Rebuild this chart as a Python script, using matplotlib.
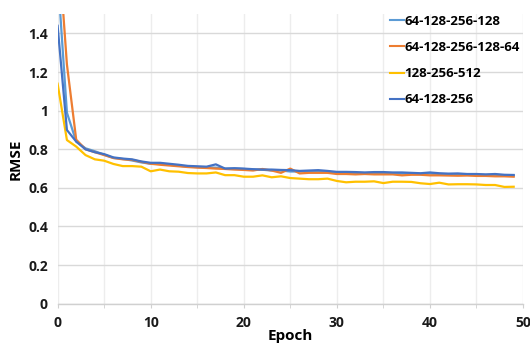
import matplotlib
matplotlib.use("Agg")
import matplotlib.pyplot as plt
from matplotlib.ticker import MultipleLocator, FuncFormatter

epochs = list(range(50))

s_64_128_256_128 = [1.71, 0.99, 0.84, 0.805, 0.79, 0.772, 0.755, 0.75, 0.742, 0.732,
                    0.725, 0.724, 0.72, 0.715, 0.71, 0.708, 0.706, 0.705, 0.70, 0.70,
                    0.698, 0.695, 0.694, 0.69, 0.69, 0.685, 0.685, 0.686, 0.685, 0.682,
                    0.68, 0.678, 0.678, 0.677, 0.678, 0.675, 0.675, 0.674, 0.674, 0.672,
                    0.674, 0.67, 0.67, 0.669, 0.668, 0.668, 0.667, 0.668, 0.665, 0.664]

s_64_128_256_128_64 = [1.92, 1.24, 0.85, 0.80, 0.785, 0.77, 0.755, 0.748, 0.745, 0.735,
                       0.725, 0.72, 0.716, 0.712, 0.708, 0.705, 0.703, 0.70, 0.698, 0.695,
                       0.693, 0.69, 0.698, 0.69, 0.678, 0.70, 0.675, 0.678, 0.678, 0.678,
                       0.672, 0.672, 0.67, 0.672, 0.67, 0.67, 0.67, 0.665, 0.668, 0.668,
                       0.665, 0.665, 0.664, 0.663, 0.664, 0.662, 0.662, 0.66, 0.66, 0.658]

s_128_256_512 = [1.14, 0.848, 0.814, 0.77, 0.748, 0.741, 0.724, 0.713, 0.713, 0.71,
                 0.686, 0.695, 0.686, 0.684, 0.677, 0.675, 0.675, 0.68, 0.666, 0.666,
                 0.658, 0.658, 0.665, 0.655, 0.66, 0.651, 0.648, 0.645, 0.645, 0.648,
                 0.636, 0.629, 0.632, 0.632, 0.634, 0.625, 0.632, 0.632, 0.631, 0.624,
                 0.62, 0.627, 0.618, 0.619, 0.619, 0.618, 0.615, 0.615, 0.605, 0.606]

s_64_128_256 = [1.44, 0.90, 0.84, 0.80, 0.785, 0.775, 0.758, 0.752, 0.748, 0.737,
                0.73, 0.73, 0.725, 0.72, 0.714, 0.712, 0.71, 0.722, 0.70, 0.702,
                0.70, 0.697, 0.695, 0.695, 0.693, 0.692, 0.688, 0.69, 0.692, 0.688,
                0.683, 0.683, 0.682, 0.68, 0.682, 0.682, 0.68, 0.68, 0.678, 0.676,
                0.68, 0.676, 0.674, 0.675, 0.672, 0.672, 0.67, 0.672, 0.668, 0.667]

labels = ["64-128-256-128", "64-128-256-128-64", "128-256-512", "64-128-256"]
colors = ["#5B9BD5", "#ED7D31", "#FFC000", "#4472C4"]
series = [s_64_128_256_128, s_64_128_256_128_64, s_128_256_512, s_64_128_256]

plt.rcParams['font.family'] = ['Open Sans', 'DejaVu Sans']
plt.rcParams['font.weight'] = 'bold'

fig = plt.figure(figsize=(5.3, 3.45), dpi=100)
ax = fig.add_axes([57.6/530, 41.3/345, (523-57.6)/530, (303.7-14.2)/345])

for s, c, l in zip(series, colors, labels):
    ax.plot(epochs, s, color=c, lw=1.6, label=l, solid_joinstyle='round')

ax.set_xlim(0, 50)
ax.set_ylim(0, 1.5)
ax.xaxis.set_major_locator(MultipleLocator(10))
ax.xaxis.set_minor_locator(MultipleLocator(5))
ax.yaxis.set_major_locator(MultipleLocator(0.2))
ax.yaxis.set_major_formatter(FuncFormatter(lambda v, p: "%g" % round(v, 2)))

ax.grid(True, axis='y', which='major', color='#D9D9D9', lw=1)
ax.grid(True, axis='x', which='both', color='#EDEDED', lw=1)
ax.set_axisbelow(True)

for sp in ['top', 'right', 'left']:
    ax.spines[sp].set_visible(False)
ax.spines['bottom'].set_color('#D0D0D0')
ax.spines['bottom'].set_linewidth(1)

ax.tick_params(axis='y', length=0, pad=7, labelsize=10, labelcolor='#1a1a1a')
ax.tick_params(axis='x', which='both', length=3, color='#D0D0D0', labelsize=10,
               pad=6, labelcolor='#1a1a1a')
for t in ax.get_xticklabels() + ax.get_yticklabels():
    t.set_fontweight('bold')

ax.set_xlabel("Epoch", fontsize=11, fontweight='bold', labelpad=-1)
ax.set_ylabel("RMSE", fontsize=11, fontweight='bold', labelpad=4)

leg = fig.legend(loc='upper left', bbox_to_anchor=(378/530, 1.0 - 3/345),
                 frameon=False, handlelength=1.05, handletextpad=0.05,
                 labelspacing=1.0, prop={'weight': 'bold', 'size': 9.5})
for line in leg.get_lines():
    line.set_linewidth(1.5)

fig.savefig("out.png", dpi=100)
